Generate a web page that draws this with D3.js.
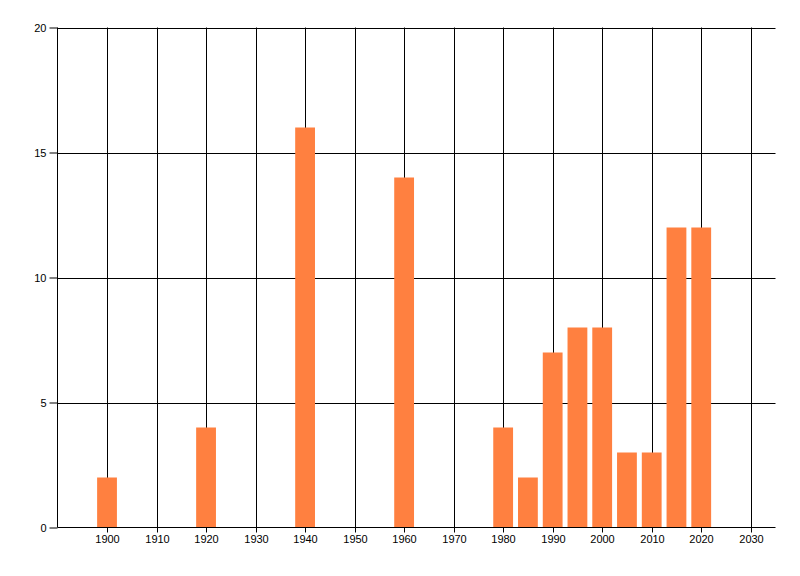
<!DOCTYPE html>
<html>
<head>
<meta charset="utf-8">
<script src="https://cdn.jsdelivr.net/npm/d3@7"></script>
<style>
  html, body { margin: 0; padding: 0; background: #fff; }
  svg { display: block; }
  text { font-family: "Liberation Sans", Arial, sans-serif; font-size: 11px; fill: #000; }
</style>
</head>
<body>
<svg id="chart" width="800" height="576"></svg>
<script>
const years = [1900, 1920, 1940, 1960, 1980, 1985, 1990, 1995, 2000, 2005, 2010, 2015, 2020];
const counts = [2, 4, 16, 14, 4, 2, 7, 8, 8, 3, 3, 12, 12];
const xTicks = [1900, 1910, 1920, 1930, 1940, 1950, 1960, 1970, 1980, 1990, 2000, 2010, 2020, 2030];
const yTicks = [0, 5, 10, 15, 20];

const svg = d3.select("#chart");
const plotLeft = 57.5, plotRight = 775.5, plotTop = 27.5, plotBottom = 527.5;

const x = d3.scaleLinear().domain([1890, 2035]).range([plotLeft, plotRight]);
const y = d3.scaleLinear().domain([0, 20]).range([plotBottom, plotTop]);

// vertical gridlines
svg.append("g").selectAll("line").data(xTicks).join("line")
  .attr("x1", d => Math.round(x(d)) + 0.5).attr("x2", d => Math.round(x(d)) + 0.5)
  .attr("y1", plotTop).attr("y2", plotBottom)
  .attr("stroke", "#000").attr("stroke-width", 1);

// horizontal gridlines
svg.append("g").selectAll("line").data(yTicks.filter(d => d > 0)).join("line")
  .attr("x1", plotLeft).attr("x2", plotRight)
  .attr("y1", d => Math.round(y(d)) + 0.5).attr("y2", d => Math.round(y(d)) + 0.5)
  .attr("stroke", "#000").attr("stroke-width", 1);

// bars
const barW = x(1894) - x(1890);
svg.append("g").selectAll("rect").data(years.map((yr, i) => ({yr, v: counts[i]}))).join("rect")
  .attr("x", d => x(d.yr) - barW / 2)
  .attr("width", barW)
  .attr("y", d => y(d.v))
  .attr("height", d => y(0) - y(d.v))
  .attr("fill", "#ff8040");

// y axis
const yAxis = d3.axisLeft(y).tickValues(yTicks).tickSize(8).tickPadding(3).tickFormat(d3.format("d"));
const gy = svg.append("g").attr("transform", `translate(${plotLeft},0)`).call(yAxis);
gy.select(".domain").attr("d", `M0,${plotTop}V${plotBottom}`).attr("stroke", "#000");
gy.selectAll("text").style("font-family", "Liberation Sans, Arial, sans-serif").style("font-size", "11px").attr("fill", "#000");

// x axis
const xAxis = d3.axisBottom(x).tickValues(xTicks).tickSize(5).tickPadding(3).tickFormat(d3.format("d"));
const gx = svg.append("g").attr("transform", `translate(0,${plotBottom})`).call(xAxis);
gx.select(".domain").attr("d", `M${plotLeft},0H${plotRight}`).attr("stroke", "#000");
gx.selectAll(".tick").attr("transform", d => `translate(${Math.round(x(d)) + 0.5},0)`);
gx.selectAll("text").style("font-family", "Liberation Sans, Arial, sans-serif").style("font-size", "11px").attr("fill", "#000");
</script>
</body>
</html>
